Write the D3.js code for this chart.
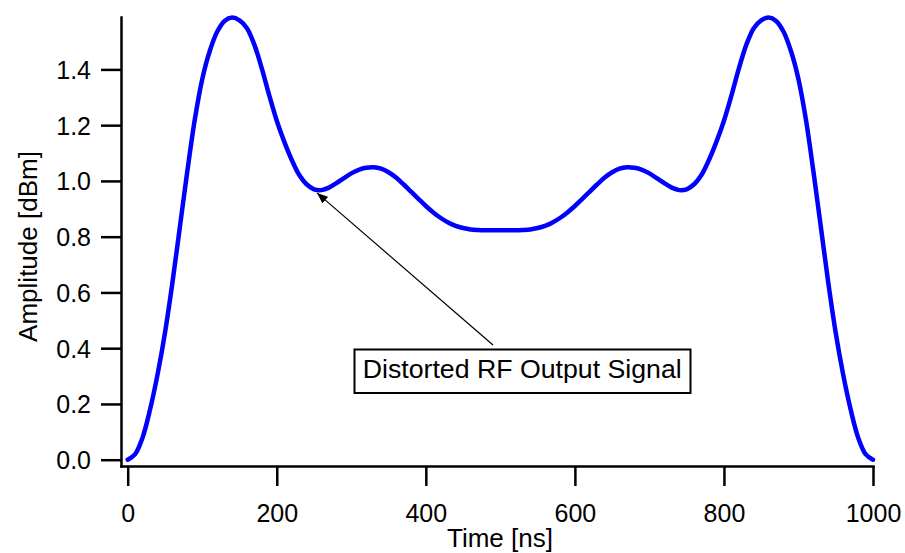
<!DOCTYPE html>
<html>
<head>
<meta charset="utf-8">
<script src="https://cdn.jsdelivr.net/npm/d3@7"></script>
<style>
  html, body { margin: 0; padding: 0; background: #fff; }
  svg { display: block; font-family: "Liberation Sans", Arial, Helvetica, sans-serif; }
</style>
</head>
<body>
<svg id="chart" width="905" height="553"></svg>
<script>
// ---- data ----
const timeNs = [0,10,20,30,40,50,60,70,80,90,100,110,120,130,140,150,160,170,180,190,200,
  210,220,230,240,250,260,270,280,290,300,310,320,330,340,350,360,370,380,390,400,
  410,420,430,440,450,460,470,480,490,500,
  510,520,530,540,550,560,570,580,590,600,610,620,630,640,650,660,670,680,690,700,
  710,720,730,740,750,760,770,780,790,800,810,820,830,840,850,860,870,880,890,900,
  910,920,930,940,950,960,970,980,990,1000];
const amplitude = [0.000,0.020,0.080,0.180,0.305,0.455,0.635,0.835,1.035,1.220,1.365,1.465,1.535,1.574,1.586,1.576,1.548,1.488,1.403,1.306,1.216,
  1.141,1.076,1.022,0.988,0.970,0.967,0.976,0.992,1.010,1.027,1.040,1.047,1.049,1.044,1.031,1.012,0.988,0.962,0.936,0.910,
  0.887,0.867,0.851,0.839,0.831,0.826,0.824,0.823,0.823,0.823,
  0.823,0.823,0.824,0.826,0.831,0.839,0.851,0.867,0.887,0.910,0.936,0.962,0.988,1.012,1.031,1.044,1.049,1.047,1.040,1.027,
  1.010,0.992,0.976,0.967,0.970,0.988,1.022,1.076,1.141,1.216,1.306,1.403,1.488,1.548,1.576,1.586,1.574,1.535,1.465,1.365,
  1.220,1.035,0.835,0.635,0.455,0.305,0.180,0.080,0.020,0.000];
const xTicks = [0,200,400,600,800,1000];
const yTicks = [0.0,0.2,0.4,0.6,0.8,1.0,1.2,1.4];
const xTitle = "Time [ns]";
const yTitle = "Amplitude [dBm]";
const annotationText = "Distorted RF Output Signal";
const annotationPoint = { t: 254, v: 0.957 };

// ---- layout ----
const svg = d3.select("#chart");
const x = d3.scaleLinear().domain([-9, 1000]).range([121, 873]);
const y = d3.scaleLinear().domain([-0.0226, 1.588]).range([466, 17]);
const tickFont = 25;

// axes
const xAxis = svg.append("g").attr("transform", "translate(0,466)")
  .call(d3.axisBottom(x).tickValues(xTicks).tickSize(20).tickSizeOuter(0).tickFormat(d3.format("d")));
xAxis.select(".domain").attr("stroke", "#000").attr("stroke-width", 2.5);
xAxis.selectAll(".tick line").attr("stroke", "#000").attr("stroke-width", 2.5);
xAxis.selectAll(".tick text").attr("y", 55.7).attr("dy", 0)
  .attr("font-size", tickFont).attr("fill", "#000").attr("font-family", null);

const yAxis = svg.append("g").attr("transform", "translate(121,0)")
  .call(d3.axisLeft(y).tickValues(yTicks).tickSize(20).tickSizeOuter(0).tickPadding(10).tickFormat(d3.format(".1f")));
yAxis.select(".domain").attr("stroke", "#000").attr("stroke-width", 2.5);
yAxis.selectAll(".tick line").attr("stroke", "#000").attr("stroke-width", 2.5);
yAxis.selectAll(".tick text").attr("dy", "0.36em")
  .attr("font-size", tickFont).attr("fill", "#000").attr("font-family", null);
svg.selectAll(".domain").attr("stroke-linecap", "square");

// titles
svg.append("text").attr("x", (x(-9) + x(1000)) / 2 + 3).attr("y", 547)
  .attr("text-anchor", "middle").attr("font-size", 26).text(xTitle);
svg.append("text").attr("transform", "translate(36.5,246.5) rotate(-90)")
  .attr("text-anchor", "middle").attr("font-size", 26).text(yTitle);

// curve
const pts = timeNs.map((t, i) => [t, amplitude[i]]);
const line = d3.line().x(d => x(d[0])).y(d => y(d[1])).curve(d3.curveCatmullRom.alpha(0.5));
svg.append("path").datum(pts).attr("d", line)
  .attr("fill", "none").attr("stroke", "#0000ff").attr("stroke-width", 4.5)
  .attr("stroke-linejoin", "round").attr("stroke-linecap", "round");

// annotation
const defs = svg.append("defs");
defs.append("marker").attr("id", "arrow").attr("viewBox", "0 0 10 10")
  .attr("refX", 10).attr("refY", 5).attr("markerWidth", 11).attr("markerHeight", 11)
  .attr("markerUnits", "userSpaceOnUse").attr("orient", "auto")
  .append("path").attr("d", "M0,1 L10,5 L0,9 Z").attr("fill", "#000");
const tipX = x(annotationPoint.t), tipY = y(annotationPoint.v);
svg.append("line").attr("x1", 493).attr("y1", 345).attr("x2", tipX).attr("y2", tipY)
  .attr("stroke", "#000").attr("stroke-width", 1.2).attr("marker-end", "url(#arrow)");
svg.append("rect").attr("x", 354.5).attr("y", 349.5).attr("width", 336).attr("height", 43.5)
  .attr("fill", "#fff").attr("stroke", "#000").attr("stroke-width", 2);
svg.append("text").attr("x", 522.2).attr("y", 377.7).attr("text-anchor", "middle")
  .attr("font-size", 25).attr("textLength", 319).attr("lengthAdjust", "spacingAndGlyphs")
  .text(annotationText);
</script>
</body>
</html>
